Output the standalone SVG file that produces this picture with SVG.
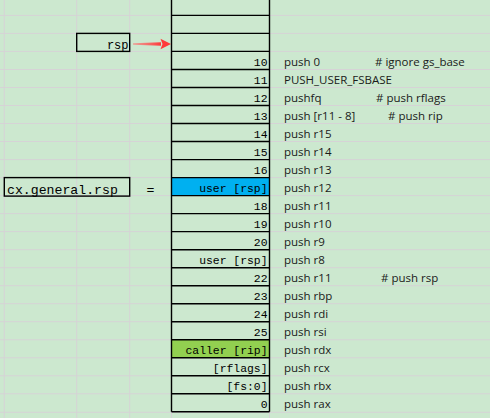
<svg xmlns="http://www.w3.org/2000/svg" width="490" height="418" viewBox="0 0 490 418">
<style>
.bg{fill:#CCE8CF}
.grid{stroke:#D6D3D6;stroke-width:1;fill:none}
.cell{fill:none;stroke:#000;stroke-width:1.4}
.box{fill:none;stroke:#000;stroke-width:1.4}
.num{font-family:"Liberation Mono",monospace;font-size:11.4px;fill:#000;text-anchor:end}
.lbl{font-family:"Liberation Mono",monospace;font-size:12px;fill:#000}
.big{font-family:"Liberation Mono",monospace;font-size:13.2px;fill:#000}
.code{font-family:"Open Sans",sans-serif;font-size:11.5px;fill:#1A1A1A}
.blue{fill:#00B0F0}
.green{fill:#92D050}
</style>
<defs>
<linearGradient id="arrowGrad" x1="0" y1="0" x2="1" y2="0">
<stop offset="0" stop-color="#FF7070" stop-opacity="0.6"/>
<stop offset="1" stop-color="#FF3A3A"/>
</linearGradient>
</defs>
<rect class="bg" x="0" y="0" width="490" height="418"/>
<g id="gridlines" class="grid">
<path d="M0 15.4H490M0 33.4H490M0 51.4H490M0 69.5H490M0 87.5H490M0 105.5H490M0 123.5H490M0 141.5H490M0 159.6H490M0 177.6H490M0 195.6H490M0 213.6H490M0 231.6H490M0 249.7H490M0 267.7H490M0 285.7H490M0 303.7H490M0 321.7H490M0 339.8H490M0 357.8H490M0 375.8H490M0 393.8H490M0 412.3H490"/>
<path d="M4.3 0V418M76.7 0V418M129.7 0V418M171.5 0V418M269.5 0V418"/>
</g>
<g id="stack">
<rect class="blue" x="171.5" y="177.6" width="98" height="18"/>
<rect class="green" x="171.5" y="339.8" width="98" height="18"/>
<path class="cell" d="M171.5 0V411.8M269.5 0V411.8M171.5 15.4H269.5M171.5 33.4H269.5M171.5 51.4H269.5M171.5 69.5H269.5M171.5 87.5H269.5M171.5 105.5H269.5M171.5 123.5H269.5M171.5 141.5H269.5M171.5 159.6H269.5M171.5 177.6H269.5M171.5 195.6H269.5M171.5 213.6H269.5M171.5 231.6H269.5M171.5 249.7H269.5M171.5 267.7H269.5M171.5 285.7H269.5M171.5 303.7H269.5M171.5 321.7H269.5M171.5 339.8H269.5M171.5 357.8H269.5M171.5 375.8H269.5M171.5 393.8H269.5M171.5 411.8H269.5"/>
<g id="slot-10"><text class="num" x="267.5" y="65.9">10</text></g>
<g id="slot-11"><text class="num" x="267.5" y="83.9">11</text></g>
<g id="slot-12"><text class="num" x="267.5" y="101.9">12</text></g>
<g id="slot-13"><text class="num" x="267.5" y="119.9">13</text></g>
<g id="slot-14"><text class="num" x="267.5" y="137.9">14</text></g>
<g id="slot-15"><text class="num" x="267.5" y="156">15</text></g>
<g id="slot-16"><text class="num" x="267.5" y="174">16</text></g>
<g id="slot-17"><text class="num" x="267.5" y="192">user [rsp]</text></g>
<g id="slot-18"><text class="num" x="267.5" y="210">18</text></g>
<g id="slot-19"><text class="num" x="267.5" y="228">19</text></g>
<g id="slot-20"><text class="num" x="267.5" y="246.1">20</text></g>
<g id="slot-21"><text class="num" x="267.5" y="264.1">user [rsp]</text></g>
<g id="slot-22"><text class="num" x="267.5" y="282.1">22</text></g>
<g id="slot-23"><text class="num" x="267.5" y="300.1">23</text></g>
<g id="slot-24"><text class="num" x="267.5" y="318.1">24</text></g>
<g id="slot-25"><text class="num" x="267.5" y="336.2">25</text></g>
<g id="slot-26"><text class="num" x="267.5" y="354.2">caller [rip]</text></g>
<g id="slot-27"><text class="num" x="267.5" y="372.2">[rflags]</text></g>
<g id="slot-28"><text class="num" x="267.5" y="390.2">[fs:0]</text></g>
<g id="slot-29"><text class="num" x="267.5" y="408.2">0</text></g>
</g>
<g id="rsp-label">
<rect class="box" x="76.7" y="33.4" width="53" height="18"/>
<text class="lbl" x="128.5" y="48.5" text-anchor="end">rsp</text>
</g>
<g id="cx-label">
<rect class="box" x="4.3" y="177.6" width="125.4" height="18.5"/>
<text class="big" x="7" y="193.8">cx.general.rsp</text>
</g>
<g id="equals">
<text class="big" x="150.5" y="193.5" text-anchor="middle">=</text>
</g>
<g id="connectors">
<polygon points="133,43.2 161,42.3 161,45.7 133,44.8" fill="url(#arrowGrad)"/>
<polygon points="160.5,38.8 171,44 160.5,49.2 162.5,44" fill="#FF3A3A"/>
</g>
<g id="code">
<text class="code" x="284" y="65.7">push 0</text>
<text class="code" x="375" y="65.7"># ignore gs_base</text>
<text class="code" x="284" y="83.7">PUSH_USER_FSBASE</text>
<text class="code" x="284" y="101.7">pushfq</text>
<text class="code" x="376" y="101.7"># push rflags</text>
<text class="code" x="284" y="119.7">push [r11 - 8]</text>
<text class="code" x="388" y="119.7"># push rip</text>
<text class="code" x="284" y="137.7">push r15</text>
<text class="code" x="284" y="155.8">push r14</text>
<text class="code" x="284" y="173.8">push r13</text>
<text class="code" x="284" y="191.8">push r12</text>
<text class="code" x="284" y="209.8">push r11</text>
<text class="code" x="284" y="227.8">push r10</text>
<text class="code" x="284" y="245.9">push r9</text>
<text class="code" x="284" y="263.9">push r8</text>
<text class="code" x="284" y="281.9">push r11</text>
<text class="code" x="381" y="281.9"># push rsp</text>
<text class="code" x="284" y="299.9">push rbp</text>
<text class="code" x="284" y="317.9">push rdi</text>
<text class="code" x="284" y="336">push rsi</text>
<text class="code" x="284" y="354">push rdx</text>
<text class="code" x="284" y="372">push rcx</text>
<text class="code" x="284" y="390">push rbx</text>
<text class="code" x="284" y="408">push rax</text>
</g>
</svg>
